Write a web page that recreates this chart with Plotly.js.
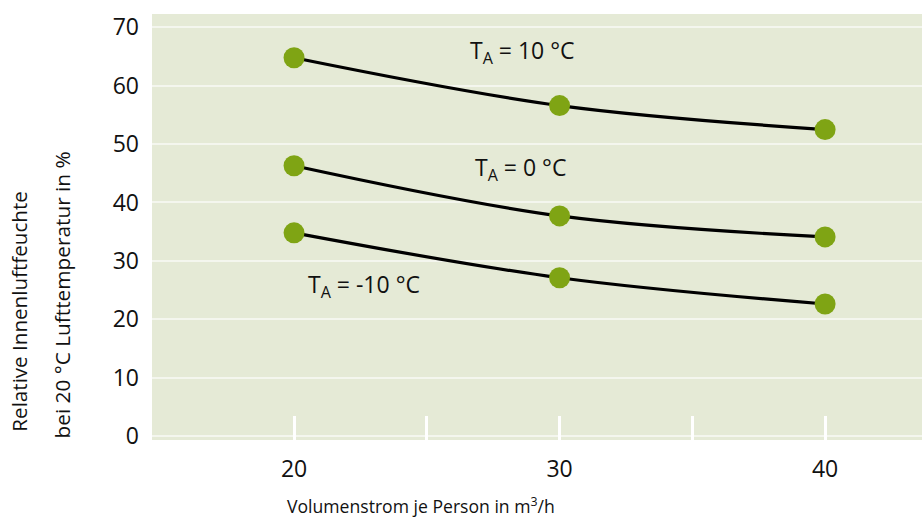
<!DOCTYPE html>
<html>
<head>
<meta charset="utf-8">
<script src="https://cdn.plot.ly/plotly-3.0.1.min.js"></script>
<style>html,body{margin:0;padding:0;background:#fff;}#chart{width:922px;height:525px;}</style>
</head>
<body>
<div id="chart"></div>
<script>
const volumenstrom = [20, 30, 40];
const feuchte_p10 = [64.8, 56.6, 52.5];
const feuchte_0 = [46.3, 37.7, 34.1];
const feuchte_m10 = [34.8, 27.1, 22.6];
const seriesLabels = ['T<sub>A</sub> = 10 °C', 'T<sub>A</sub> = 0 °C', 'T<sub>A</sub> = -10 °C'];
const labelX = [26.55, 26.75, 20.45];
const labelY = [65.8, 45.9, 25.8];
const xTickVals = [20, 25, 30, 35, 40];
const xTickText = ['20', '', '30', '', '40'];
const yTickVals = [0, 10, 20, 30, 40, 50, 60, 70];
const yTitleLines = ['Relative Innenluftfeuchte', 'bei 20 °C Lufttemperatur in %'];
const xTitle = 'Volumenstrom je Person in m<sup>3</sup>/h';

const FONT = '"Open Sans", "Noto Sans", sans-serif';
const green = '#7fa414';
const ink = '#111111';

function series(y) {
  return {
    x: volumenstrom, y: y, type: 'scatter', mode: 'lines+markers',
    line: {color: '#000', width: 3.2, shape: 'spline', smoothing: 1},
    marker: {color: green, size: 21},
    hoverinfo: 'skip', showlegend: false
  };
}
const data = [series(feuchte_p10), series(feuchte_0), series(feuchte_m10)];

const annotations = seriesLabels.map((t, i) => ({
  x: labelX[i], y: labelY[i], xref: 'x', yref: 'y', text: t, showarrow: false,
  xanchor: 'left', yanchor: 'middle', font: {family: FONT, size: 23, color: ink}
}));
annotations.push({
  x: -0.1727, y: 0.015, xref: 'paper', yref: 'paper', text: yTitleLines[0],
  textangle: -90, showarrow: false, xanchor: 'center', yanchor: 'bottom',
  font: {family: FONT, size: 20.6, color: ink}
});
annotations.push({
  x: -0.1169, y: 0.0, xref: 'paper', yref: 'paper', text: yTitleLines[1],
  textangle: -90, showarrow: false, xanchor: 'center', yanchor: 'bottom',
  font: {family: FONT, size: 20.8, color: ink}
});
annotations.push({
  x: 0.1727, y: -0.1526, xref: 'paper', yref: 'paper', text: xTitle,
  showarrow: false, xanchor: 'left', yanchor: 'middle',
  font: {family: FONT, size: 17.6, color: ink}
});

const layout = {
  width: 922, height: 525,
  margin: {l: 152, r: 0, t: 14, b: 85},
  paper_bgcolor: '#ffffff',
  plot_bgcolor: '#e5ead6',
  font: {family: FONT, size: 20, color: ink},
  xaxis: {
    range: [14.65, 43.65], tickvals: xTickVals, ticktext: xTickText,
    ticks: 'inside', ticklen: 24, tickwidth: 3, tickcolor: '#ffffff',
    showgrid: false, zeroline: false, showline: false,
    ticklabelstandoff: 13, tickfont: {family: FONT, size: 23, color: ink}
  },
  yaxis: {
    range: [-0.7, 72.3], tickvals: yTickVals,
    ticks: '', showgrid: true, gridcolor: '#f4f6ee', gridwidth: 2,
    zeroline: false, showline: false,
    ticklabelstandoff: 12, tickfont: {family: FONT, size: 23, color: ink}
  },
  annotations: annotations
};

Plotly.newPlot('chart', data, layout, {staticPlot: true, displayModeBar: false});
</script>
</body>
</html>
